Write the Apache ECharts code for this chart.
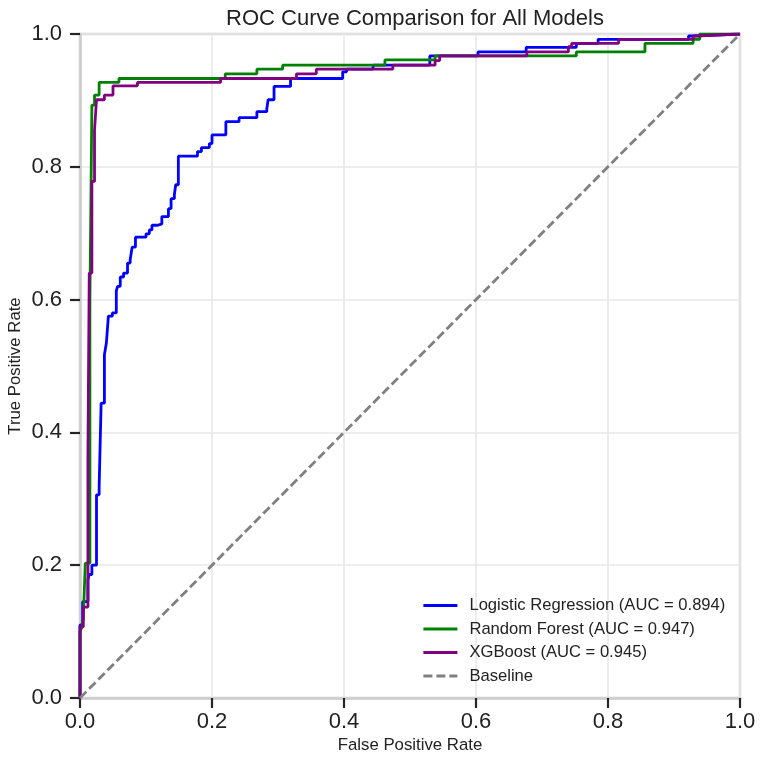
<!DOCTYPE html>
<html lang="en">
<head>
    <meta charset="UTF-8">
    <title>ROC Curve Comparison</title>
    <script src="https://cdn.jsdelivr.net/npm/echarts@6/dist/echarts.min.js"></script>
    <style>
        html, body { margin: 0; padding: 0; background: #fff; }
        #main { width: 766px; height: 766px; }
    </style>
</head>
<body>
<div id="main"></div>
<script>
    // ROC points [fpr, tpr] — each point is the top of a vertical step
    let logisticRoc = [[0, 0], [0, 0.11], [0.004, 0.145], [0.012, 0.178], [0.014, 0.186], [0.018, 0.2],
        [0.025, 0.306], [0.029, 0.318], [0.032, 0.444], [0.037, 0.517], [0.04, 0.535], [0.043, 0.575],
        [0.049, 0.58], [0.055, 0.613], [0.057, 0.62], [0.061, 0.634], [0.066, 0.64], [0.072, 0.655],
        [0.076, 0.66], [0.079, 0.679], [0.084, 0.694], [0.1, 0.699], [0.105, 0.705], [0.109, 0.712],
        [0.118, 0.714], [0.124, 0.725], [0.134, 0.737], [0.138, 0.752], [0.143, 0.758], [0.145, 0.773],
        [0.149, 0.816], [0.178, 0.823], [0.184, 0.829], [0.196, 0.835], [0.2, 0.848], [0.221, 0.868],
        [0.241, 0.874], [0.268, 0.883], [0.283, 0.887], [0.285, 0.901], [0.294, 0.921], [0.319, 0.933],
        [0.398, 0.943], [0.404, 0.947], [0.444, 0.953], [0.53, 0.967], [0.603, 0.973], [0.676, 0.98],
        [0.752, 0.986], [0.785, 0.992], [0.922, 0.997], [0.927, 1], [1, 1]]
    let forestRoc = [[0, 0], [0, 0.1], [0.003, 0.107], [0.005, 0.12], [0.008, 0.203], [0.015, 0.6],
        [0.018, 0.893], [0.022, 0.908], [0.029, 0.927], [0.059, 0.933], [0.22, 0.94], [0.268, 0.947],
        [0.307, 0.953], [0.462, 0.961], [0.538, 0.967], [0.752, 0.973], [0.856, 0.986], [0.929, 0.992],
        [0.939, 1], [1, 1]]
    let xgbRoc = [[0, 0], [0, 0.107], [0.005, 0.137], [0.012, 0.366], [0.014, 0.64], [0.018, 0.778],
        [0.022, 0.855], [0.025, 0.901], [0.037, 0.908], [0.05, 0.922], [0.087, 0.927], [0.213, 0.933],
        [0.328, 0.94], [0.358, 0.947], [0.474, 0.953], [0.538, 0.96], [0.545, 0.967], [0.677, 0.973],
        [0.74, 0.981], [0.745, 0.986], [0.816, 0.992], [0.929, 0.997], [0.933, 1], [1, 1]]
    let baseline = [[0, 0], [1, 1]]

    let modelNames = ['Logistic Regression (AUC = 0.894)', 'Random Forest (AUC = 0.947)',
        'XGBoost (AUC = 0.945)', 'Baseline']

    let font = "'Liberation Sans', Arial, sans-serif"
    let chart = echarts.init(document.getElementById('main'))

    function rocSeries(name, data, color) {
        return {
            name: name,
            type: 'line',
            step: 'end',
            data: data,
            symbol: 'none',
            animation: false,
            lineStyle: { color: color, width: 2.8 },
            itemStyle: { color: color }
        }
    }

    function axisStyle(name, gap, margin) {
        return {
            type: 'value',
            min: 0,
            max: 1,
            interval: 0.2,
            name: name,
            nameLocation: 'middle',
            nameGap: gap,
            nameMoveOverlap: false,
            nameTextStyle: { fontSize: 16.8, color: '#222', fontFamily: font },
            axisLine: { show: true, lineStyle: { color: '#cccccc', width: 2.5 } },
            axisTick: { show: true, length: 10, lineStyle: { color: '#262626', width: 2.2 } },
            axisLabel: {
                fontSize: 22, color: '#222', fontFamily: font, margin: margin,
                formatter: v => v.toFixed(1)
            },
            splitLine: { show: true, lineStyle: { color: '#e8e8e8', width: 1.6 } }
        }
    }

    chart.setOption({
        backgroundColor: '#fff',
        title: {
            text: 'ROC Curve Comparison for All Models',
            left: 410,
            textAlign: 'center',
            top: 3,
            textStyle: { fontSize: 22, fontWeight: 'normal', color: '#222', fontFamily: font }
        },
        grid: {
            left: 80, right: 26, top: 34, bottom: 68,
            outerBoundsMode: 'none',
            containLabel: false,
            show: true, borderColor: '#cccccc', borderWidth: 2.5
        },
        legend: {
            orient: 'vertical',
            left: 417,
            top: 592,
            itemWidth: 34,
            itemHeight: 14,
            itemGap: 6.5,
            data: modelNames,
            itemStyle: { opacity: 0 },
            lineStyle: { width: 2.8 },
            textStyle: { fontSize: 16.6, color: '#222', fontFamily: font, padding: [0, 0, 0, 7] }
        },
        xAxis: axisStyle('False Positive Rate', 39, 13),
        yAxis: axisStyle('True Positive Rate', 56, 18),
        series: [
            rocSeries(modelNames[0], logisticRoc, '#0000ff'),
            rocSeries(modelNames[1], forestRoc, '#008000'),
            rocSeries(modelNames[2], xgbRoc, '#800080'),
            {
                name: modelNames[3],
                type: 'line',
                data: baseline,
                symbol: 'none',
                animation: false,
                lineStyle: { color: '#808080', width: 2.8, type: [9, 4] },
                itemStyle: { color: '#808080' }
            }
        ]
    })
</script>
</body>
</html>
